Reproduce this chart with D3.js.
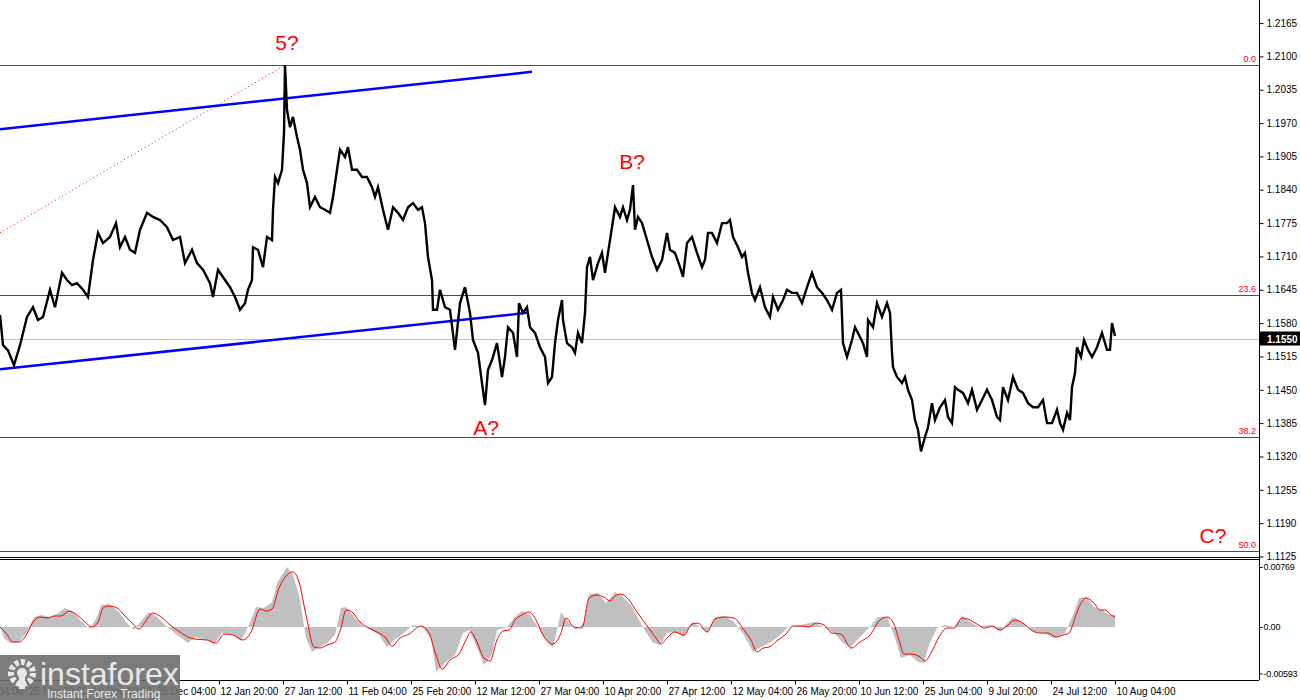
<!DOCTYPE html>
<html>
<head>
<meta charset="utf-8">
<script src="https://cdn.jsdelivr.net/npm/d3@7"></script>
<style>
  body { margin: 0; background: #fff; }
  svg { display: block; }
  text { font-family: "Liberation Sans", Arial, sans-serif; }
</style>
</head>
<body>
<svg id="chart" width="1300" height="700"></svg>
<script>
// EURUSD H4, [bar number, close]
const closes = [
  [0,1.1596],[3,1.1537],[8,1.1527],[14,1.1498],[20,1.1537],[27,1.1592],[33,1.1611],[38,1.1586],[43,1.1592],[50,1.1645],
  [55,1.1611],[62,1.1678],[67,1.1664],[72,1.1654],[77,1.1658],[83,1.1645],[88,1.1631],[93,1.1703],[98,1.1756],[103,1.1736],
  [110,1.1748],[116,1.1775],[120,1.1728],[125,1.1748],[130,1.1723],[135,1.1717],[140,1.1762],[147,1.1795],[153,1.1787],[160,1.1781],
  [167,1.1767],[173,1.1742],[180,1.1748],[185,1.1697],[192,1.1723],[197,1.1697],[203,1.1684],[210,1.1658],[213,1.1631],[218,1.1684],
  [225,1.1664],[230,1.1650],[235,1.1631],[240,1.1606],[245,1.1619],[248,1.1645],[252,1.1664],[253,1.1728],[258,1.1723],[263,1.1689],
  [267,1.1748],[272,1.1742],[273,1.1801],[275,1.1865],[278,1.1853],[282,1.1879],[284,1.1951],[285,1.2083],[287,1.1996],[290,1.1962],
  [293,1.1982],[297,1.1943],[300,1.1918],[303,1.1879],[307,1.1853],[310,1.1806],[315,1.1826],[320,1.1806],[325,1.1801],[330,1.1795],
  [333,1.1826],[337,1.1879],[340,1.1918],[345,1.1904],[348,1.1923],[352,1.1879],[357,1.1879],[362,1.1865],[367,1.1865],[372,1.1845],
  [375,1.1826],[378,1.1845],[383,1.1801],[388,1.1762],[393,1.1806],[398,1.1795],[403,1.1781],[408,1.1806],[413,1.1814],[418,1.1801],
  [422,1.1806],[425,1.1775],[428,1.1709],[432,1.1664],[433,1.1606],[437,1.1606],[440,1.1645],[445,1.1611],[450,1.1606],[455,1.1528],
  [460,1.1619],[465,1.1650],[470,1.1600],[473,1.1547],[478,1.1522],[482,1.1463],[485,1.1420],[488,1.1489],[492,1.1508],[497,1.1541],
  [502,1.1475],[505,1.1514],[508,1.1572],[513,1.1561],[517,1.1514],[519,1.1619],[523,1.1600],[527,1.1611],[530,1.1572],[535,1.1561],
  [540,1.1533],[545,1.1514],[548,1.1463],[552,1.1475],[555,1.1541],[558,1.1586],[562,1.1625],[563,1.1586],[567,1.1541],[572,1.1533],
  [575,1.1522],[578,1.1561],[582,1.1541],[585,1.1600],[587,1.1689],[590,1.1709],[593,1.1664],[598,1.1697],[602,1.1717],[605,1.1678],
  [608,1.1717],[612,1.1767],[615,1.1806],[620,1.1787],[623,1.1806],[627,1.1781],[630,1.1801],[633,1.1849],[635,1.1762],[638,1.1787],
  [642,1.1775],[647,1.1742],[652,1.1709],[657,1.1684],[662,1.1703],[667,1.1756],[670,1.1723],[675,1.1717],[680,1.1689],[683,1.1670],
  [687,1.1736],[692,1.1748],[697,1.1717],[702,1.1689],[705,1.1703],[708,1.1756],[712,1.1756],[717,1.1736],[722,1.1775],[727,1.1775],
  [730,1.1781],[733,1.1748],[738,1.1728],[742,1.1709],[745,1.1717],[748,1.1678],[752,1.1639],[755,1.1625],[760,1.1650],[765,1.1611],
  [770,1.1592],[773,1.1631],[778,1.1606],[783,1.1625],[787,1.1645],[792,1.1639],[797,1.1639],[802,1.1619],[807,1.1650],[812,1.1678],
  [817,1.1650],[822,1.1639],[827,1.1625],[832,1.1606],[837,1.1639],[841,1.1645],[843,1.1541],[847,1.1514],[852,1.1547],[855,1.1572],
  [860,1.1553],[863,1.1541],[867,1.1514],[868,1.1586],[873,1.1572],[877,1.1619],[882,1.1592],[887,1.1619],[890,1.1600],[892,1.1522],
  [893,1.1494],[897,1.1475],[902,1.1463],[905,1.1475],[908,1.1450],[912,1.1430],[915,1.1391],[918,1.1372],[921,1.1330],[925,1.1358],
  [928,1.1377],[932,1.1424],[935,1.1391],[940,1.1416],[945,1.1430],[948,1.1397],[952,1.1385],[955,1.1455],[958,1.1450],[963,1.1444],
  [968,1.1424],[972,1.1450],[977,1.1411],[982,1.1430],[987,1.1450],[992,1.1430],[997,1.1397],[1000,1.1391],[1003,1.1455],[1008,1.1430],
  [1013,1.1475],[1018,1.1450],[1023,1.1444],[1028,1.1424],[1033,1.1416],[1038,1.1416],[1043,1.1430],[1047,1.1385],[1052,1.1385],[1057,1.1411],
  [1060,1.1385],[1063,1.1372],[1067,1.1405],[1070,1.1391],[1072,1.1455],[1075,1.1483],[1077,1.1533],[1081,1.1514],[1084,1.1547],[1088,1.1528],
  [1092,1.1514],[1097,1.1533],[1102,1.1561],[1107,1.1528],[1110,1.1528],[1112,1.1580],[1115,1.1555]
]
const lastPrice = 1.1550

// MACD main (grey histogram) and signal (red), [bar number, value]
const macdMain = [
  [0,0],[4,-0.00141],[10,-0.00205],[19,-0.00192],[27,-0.00064],[34,0.00128],[42,0.00154],[50,0.00128],[57,0.00166],[65,0.00243],
  [73,0.00192],[80,0.0009],[90,-0.00026],[98,0.00154],[101,0.00282],[109,0.00294],[119,0.00192],[126,0.00064],[134,-0.00038],[142,0.0009],
  [149,0.00192],[157,0.00128],[165,0.00026],[176,-0.0009],[188,-0.00205],[195,-0.00128],[207,-0.00166],[214,-0.00218],[222,-0.00077],[233,-0.00102],
  [241,-0.00179],[249,0.00026],[256,0.00256],[264,0.00243],[272,0.0032],[277,0.00563],[287,0.00768],[293,0.00666],[299,0.0041],[306,-0.00141],
  [312,-0.0032],[318,-0.00269],[327,-0.00205],[335,-0.00102],[341,0.00243],[346,0.00256],[354,0.00128],[362,0.00026],[371,-0.00038],[379,-0.00102],
  [387,-0.00256],[394,-0.00166],[404,-0.00077],[413,0.00026],[423,-0.00013],[431,-0.00141],[436,-0.00576],[446,-0.00448],[455,-0.00358],[463,-0.00077],
  [469,-0.00038],[476,-0.0023],[484,-0.00486],[492,-0.00358],[497,-0.00038],[507,0],[515,0.00128],[522,0.00205],[530,0.00154],[538,0],
  [547,-0.00192],[553,-0.00269],[561,0.00192],[568,0.00064],[576,-0.00038],[584,0.00064],[589,0.00422],[598,0.00435],[606,0.00307],[615,0.00448],
  [623,0.00384],[631,0.00282],[640,0.00064],[652,-0.00192],[660,-0.0023],[667,-0.00077],[675,-0.00064],[684,-0.00128],[692,0.00064],[700,0],
  [707,-0.00077],[715,0.00128],[725,0.00141],[734,0.00064],[744,-0.00102],[753,-0.0032],[761,-0.00256],[769,-0.00205],[778,-0.00128],[788,0],
  [797,0.00013],[813,0.00064],[824,0],[834,-0.00077],[843,-0.00205],[851,-0.00256],[860,-0.00128],[870,0],[878,0.00128],[887,0.00128],
  [895,-0.00141],[901,-0.00397],[910,-0.00358],[918,-0.00448],[924,-0.00461],[929,-0.0023],[937,-0.00013],[945,0.00026],[954,0],[962,0.00141],
  [970,0.00064],[979,0],[989,0.00026],[1000,-0.00051],[1013,0.00128],[1023,0.00051],[1033,-0.00064],[1044,-0.00077],[1054,-0.00141],[1065,-0.00077],
  [1073,0.00154],[1079,0.00371],[1086,0.00384],[1094,0.00256],[1102,0.00218],[1109,0.00154],[1115,0.00154]
]
const macdSignal = [
  [0,0],[6,-0.00077],[13,-0.00192],[19,-0.00192],[25,-0.00128],[33,0.00064],[40,0.00128],[48,0.00115],[54,0.00141],[61,0.00141],
  [69,0.00205],[77,0.00154],[84,0.00077],[92,0],[98,0.00064],[103,0.00243],[109,0.00269],[117,0.00243],[124,0.00154],[132,0.00051],
  [139,-0.00026],[145,0.00064],[153,0.00179],[161,0.00128],[170,0.00026],[180,-0.00064],[188,-0.00128],[195,-0.00154],[207,-0.00166],[216,-0.00205],
  [224,-0.0009],[233,-0.00102],[243,-0.00166],[251,-0.00064],[260,0.0023],[266,0.00205],[272,0.0023],[279,0.00499],[287,0.00666],[293,0.00704],
  [299,0.00576],[306,0.00154],[314,-0.00256],[320,-0.00269],[327,-0.0023],[335,-0.00192],[341,-0.00013],[346,0.00218],[352,0.00192],[360,0.00064],
  [367,0],[377,-0.00064],[385,-0.00128],[392,-0.00243],[400,-0.00141],[409,-0.0009],[421,0.00013],[429,-0.00077],[436,-0.00358],[442,-0.00538],
  [450,-0.00422],[459,-0.00346],[465,-0.00192],[471,-0.00064],[476,-0.00166],[484,-0.00397],[490,-0.00435],[497,-0.00166],[503,-0.00051],[509,-0.00038],
  [515,0.0009],[522,0.00154],[529,0.00192],[536,0.0009],[543,-0.00102],[553,-0.00218],[561,-0.00077],[566,0.00115],[574,0],[582,-0.00013],
  [589,0.00371],[597,0.0041],[604,0.00384],[610,0.00333],[615,0.00397],[621,0.00422],[629,0.00346],[637,0.00192],[648,0],[656,-0.00141],
  [661,-0.00218],[667,-0.00141],[675,-0.00064],[684,-0.00102],[692,0.00038],[698,0.00051],[707,-0.00064],[715,0.00102],[725,0.00128],[734,0.00115],
  [744,-0.00038],[751,-0.00166],[757,-0.0032],[763,-0.00269],[769,-0.00256],[778,-0.00166],[786,-0.0009],[793,0.00013],[801,0.00013],[809,0],
  [816,0.00051],[824,0.00026],[832,-0.00077],[841,-0.0009],[851,-0.00269],[860,-0.00192],[870,-0.00102],[880,0.0009],[887,0.00128],[893,0.00064],
  [899,-0.00166],[904,-0.00346],[912,-0.00346],[920,-0.00384],[925,-0.00435],[931,-0.00333],[939,-0.00128],[947,-0.00013],[954,-0.00013],[962,0.00115],
  [970,0.0009],[977,0.00038],[985,-0.00013],[992,0.00013],[1000,-0.00038],[1008,0.00026],[1015,0.0009],[1023,0.00051],[1031,-0.00038],[1040,-0.00077],
  [1048,-0.00077],[1056,-0.00128],[1063,-0.00102],[1069,-0.00077],[1075,0.00115],[1080,0.00282],[1086,0.00371],[1094,0.00307],[1100,0.00218],[1105,0.00218],
  [1111,0.00154],[1115,0.00128]
]

// fibonacci grid from the 5? top
const fibHigh = 1.2083
const fibLow = 1.0187
const fibLevels = [0.0, 23.6, 38.2, 50.0]

// trend lines: [start bar, end bar], [start price, end price]
const channelBars = [[0, 532], [0, 527]]
const channelPrices = [[1.1958, 1.2070], [1.1490, 1.1600]]
const dotBars = [0, 285]
const dotPrices = [1.1756, 1.2083]

// wave marks
const waveNames = ['5?', 'B?', 'A?', 'C?']
const waveBars = [287, 632, 486, 1213]
const wavePrices = [1.2113, 1.1880, 1.1362, 1.1152]

// axis labels
const priceTicks = [1.2165, 1.2100, 1.2035, 1.1970, 1.1905, 1.1840, 1.1775, 1.1710, 1.1645,
  1.1580, 1.1515, 1.1450, 1.1385, 1.1320, 1.1255, 1.1190, 1.1125]
const oscTicks = [0.00769, 0, -0.00593]
const timeLabels = ['11 Nov 04:00', '25 Nov 20:00', '10 Dec 12:00', '26 Dec 04:00', '12 Jan 20:00',
  '27 Jan 12:00', '11 Feb 04:00', '25 Feb 20:00', '12 Mar 12:00', '27 Mar 04:00', '10 Apr 20:00',
  '27 Apr 12:00', '12 May 04:00', '26 May 20:00', '10 Jun 12:00', '25 Jun 04:00', '9 Jul 20:00',
  '24 Jul 12:00', '10 Aug 04:00']
const timeBars = [-37, 27, 91, 155, 219, 283, 347, 411, 475, 539, 603, 667, 731, 795, 859, 923, 987, 1051, 1115]

const svg = d3.select('#chart')
const plotW = 1259
const mainTop = 0, mainBottom = 557
const oscTop = 560, oscBottom = 680

const x = d3.scaleLinear().domain([0, plotW]).range([0, plotW])
const y = d3.scaleLinear().domain([1.1124, 1.2210]).range([mainBottom, mainTop])
const yo = d3.scaleLinear().domain([-0.00678, 0.00858]).range([oscBottom, oscTop])

const defs = svg.append('defs')
defs.append('clipPath').attr('id', 'clipMain')
  .append('rect').attr('x', 0).attr('y', mainTop).attr('width', plotW).attr('height', mainBottom - mainTop)
defs.append('clipPath').attr('id', 'clipOsc')
  .append('rect').attr('x', 0).attr('y', oscTop).attr('width', plotW).attr('height', oscBottom - oscTop)

const main = svg.append('g').attr('clip-path', 'url(#clipMain)')

// current price line
main.append('line')
  .attr('x1', 0).attr('x2', plotW)
  .attr('y1', Math.round(y(lastPrice)) + 0.5).attr('y2', Math.round(y(lastPrice)) + 0.5)
  .attr('stroke', '#c0c0c0')
  .attr('shape-rendering', 'crispEdges')

// fibo levels
const fib = fibLevels.map(l => ({ level: l, price: fibHigh - (fibHigh - fibLow) * l / 100 }))
main.selectAll('line.fib')
  .data(fib)
  .join('line')
    .attr('class', 'fib')
    .attr('x1', 0).attr('x2', plotW)
    .attr('y1', d => Math.round(y(d.price)) + 0.5)
    .attr('y2', d => Math.round(y(d.price)) + 0.5)
    .attr('stroke', '#ff0000')
    .attr('stroke-width', 1.2)
    .attr('shape-rendering', 'crispEdges')
main.selectAll('text.fib')
  .data(fib)
  .join('text')
    .attr('class', 'fib')
    .attr('x', plotW - 3)
    .attr('y', d => Math.round(y(d.price)) - 3)
    .attr('text-anchor', 'end')
    .attr('font-size', 9)
    .attr('fill', '#ff0000')
    .text(d => d.level.toFixed(1))

// dotted line to the top
main.append('line')
  .attr('x1', x(dotBars[0])).attr('y1', y(dotPrices[0]))
  .attr('x2', x(dotBars[1])).attr('y2', y(dotPrices[1]))
  .attr('stroke', '#ff0000')
  .attr('stroke-width', 1)
  .attr('stroke-dasharray', '1,3')

// channel
main.selectAll('line.channel')
  .data(channelBars.map((b, i) => ({ b, p: channelPrices[i] })))
  .join('line')
    .attr('class', 'channel')
    .attr('x1', d => x(d.b[0])).attr('y1', d => y(d.p[0]))
    .attr('x2', d => x(d.b[1])).attr('y2', d => y(d.p[1]))
    .attr('stroke', '#0000ff')
    .attr('stroke-width', 2.5)

// price
main.append('path')
  .datum(closes)
  .attr('d', d3.line().x(d => x(d[0])).y(d => y(d[1])))
  .attr('fill', 'none')
  .attr('stroke', '#000')
  .attr('stroke-width', 2.4)
  .attr('stroke-linejoin', 'miter')

// wave marks
main.selectAll('text.wave')
  .data(waveNames.map((n, i) => ({ n, b: waveBars[i], p: wavePrices[i] })))
  .join('text')
    .attr('class', 'wave')
    .attr('x', d => x(d.b))
    .attr('y', d => y(d.p))
    .attr('text-anchor', 'middle')
    .attr('font-size', 21)
    .attr('fill', '#ff0000')
    .text(d => d.n)

// oscillator
const osc = svg.append('g').attr('clip-path', 'url(#clipOsc)')
osc.append('path')
  .datum(macdMain)
  .attr('d', d3.area().x(d => x(d[0])).y0(yo(0)).y1(d => yo(d[1])))
  .attr('fill', '#c0c0c0')
osc.append('path')
  .datum(macdSignal)
  .attr('d', d3.line().x(d => x(d[0])).y(d => yo(d[1])).curve(d3.curveMonotoneX))
  .attr('fill', 'none')
  .attr('stroke', '#ff0000')
  .attr('stroke-width', 1)

// frames
const frame = svg.append('g').attr('stroke', '#000').attr('stroke-width', 1).attr('shape-rendering', 'crispEdges')
frame.append('line').attr('x1', 0).attr('x2', plotW).attr('y1', mainBottom + 0.5).attr('y2', mainBottom + 0.5)
frame.append('line').attr('x1', 0).attr('x2', plotW).attr('y1', oscTop - 0.5).attr('y2', oscTop - 0.5)
frame.append('line').attr('x1', 0).attr('x2', plotW).attr('y1', oscBottom + 0.5).attr('y2', oscBottom + 0.5)
frame.append('line').attr('x1', plotW + 0.5).attr('x2', plotW + 0.5).attr('y1', 0).attr('y2', oscBottom)

// axes
function styleAxis(g) {
  g.select('.domain').remove()
  g.selectAll('text').attr('font-size', 10).attr('fill', '#000')
    .attr('font-family', '"Liberation Sans", Arial, sans-serif')
  g.selectAll('line').attr('stroke', '#000')
}
svg.append('g')
  .attr('transform', `translate(${plotW + 0.5},0)`)
  .call(d3.axisRight(y).tickValues(priceTicks).tickFormat(d3.format('.4f')).tickSize(4).tickPadding(3))
  .call(styleAxis)
svg.append('g')
  .attr('transform', `translate(${plotW + 0.5},0)`)
  .call(d3.axisRight(yo).tickValues(oscTicks).tickFormat(d => d === 0 ? '0.00' : d.toFixed(5)).tickSize(3).tickPadding(1))
  .call(styleAxis)
  .call(g => g.selectAll('text').attr('font-size', 9).attr('letter-spacing', -0.2))
const tAxis = svg.append('g')
  .attr('transform', `translate(0,${oscBottom + 0.5})`)
  .call(d3.axisBottom(x).tickValues(timeBars).tickFormat((d, i) => timeLabels[i]).tickSize(4).tickPadding(3))
  .call(styleAxis)
tAxis.selectAll('text').attr('text-anchor', 'start').attr('dx', 1)

// last price tag
const tag = svg.append('g').attr('transform', `translate(${plotW + 1},${y(lastPrice)})`)
tag.append('rect').attr('x', 0).attr('y', -7).attr('width', 40).attr('height', 14).attr('fill', '#000')
tag.append('text').attr('x', 7).attr('y', 4).attr('font-size', 10).attr('fill', '#fff')
  .attr('font-weight', 'bold').text(d3.format('.4f')(lastPrice))

// watermark
const logo = svg.append('g').attr('transform', 'translate(0,655)')
logo.append('rect').attr('width', 180).attr('height', 45).attr('fill', '#6e6e6e').attr('opacity', 0.9)
logo.append('circle').attr('cx', 22).attr('cy', 18).attr('r', 11).attr('fill', 'none')
  .attr('stroke', '#e8e8e8').attr('stroke-width', 6).attr('stroke-dasharray', '4,2.3')
logo.append('circle').attr('cx', 22).attr('cy', 18).attr('r', 5).attr('fill', '#e8e8e8')
logo.append('rect').attr('x', 19).attr('y', 20).attr('width', 6).attr('height', 14).attr('fill', '#e8e8e8')
logo.append('text').attr('x', 40).attr('y', 30).attr('font-size', 32).attr('fill', '#e8e8e8')
  .attr('font-family', 'Lato, "Open Sans", sans-serif').text('instaforex')
logo.append('text').attr('x', 47).attr('y', 43).attr('font-size', 12).attr('fill', '#e8e8e8')
  .text('Instant Forex Trading')
</script>
</body>
</html>
